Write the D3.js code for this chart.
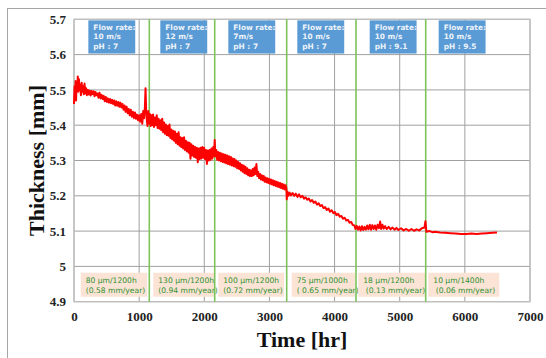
<!DOCTYPE html>
<html>
<head>
<meta charset="utf-8">
<script src="https://cdn.jsdelivr.net/npm/d3@7"></script>
<style>
  body { margin: 0; background: #fff; }
  svg { display: block; }
</style>
</head>
<body>
<svg id="chart" width="546" height="358"></svg>
<script>
/////////////////////////////////////////////////////////////////////////////////////
// Data
var xTicks = [0, 1000, 2000, 3000, 4000, 5000, 6000, 7000];
var yTicks = [4.9, 5, 5.1, 5.2, 5.3, 5.4, 5.5, 5.6, 5.7];
var yTickLabels = ["4.9", "5", "5.1", "5.2", "5.3", "5.4", "5.5", "5.6", "5.7"];

// period boundaries (hr)
var changeTimes = [1156, 2160, 3265, 4329, 5399];

// test conditions, top boxes
var conditionStart = [220, 1325, 2369, 3428, 4539, 5598];
var conditionLines = [
  ["Flow rate:", "10 m/s", "pH : 7"],
  ["Flow rate:", "12 m/s", "pH : 7"],
  ["Flow rate:", "7m/s", "pH : 7"],
  ["Flow rate:", "10 m/s", "pH : 7"],
  ["Flow rate:", "10 m/s", "pH : 9.1"],
  ["Flow rate:", "10 m/s", "pH : 9.5"]
];

// wear rate, bottom boxes
var rateStart = [103, 1217, 2215, 3342, 4364, 5439];
var rateEnd = [1125, 2164, 3224, 4314, 5388, 6529];
var rateLines = [
  ["80 \u03bcm/1200h", "(0.58 mm/year)"],
  ["130 \u03bcm/1200h", "(0.94 mm/year)"],
  ["100 \u03bcm/1200h", "(0.72 mm/year)"],
  ["75 \u03bcm/1000h", "( 0.65 mm/year)"],
  ["18 \u03bcm/1200h", " (0.13 mm/year)"],
  ["10 \u03bcm/1400h", " (0.06 mm/year)"]
];

// thickness readings [time hr, thickness mm]
var readings = [
  [0,5.46],[8,5.51],[16,5.48],[24,5.525],[32,5.47],[40,5.52],[50,5.50],[58,5.538],[66,5.495],
  [76,5.53],[86,5.50],[96,5.515],[106,5.485],[118,5.52],[128,5.495],[140,5.51],[150,5.488],
  [162,5.518],[174,5.49],[186,5.505],[198,5.485],[212,5.50],[226,5.487],[240,5.498],[256,5.484],
  [270,5.497],[286,5.488],[300,5.496],[316,5.482],[330,5.494],[346,5.485],[360,5.49],[376,5.478],
  [392,5.492],[408,5.476],[424,5.486],[440,5.474],[456,5.483],[472,5.468],[488,5.48],[504,5.466],
  [520,5.476],[536,5.464],[552,5.474],[568,5.462],[584,5.472],[600,5.46],[616,5.47],[632,5.456],
  [648,5.468],[664,5.455],[680,5.466],[696,5.452],[712,5.464],[728,5.45],[744,5.46],[760,5.444],
  [776,5.456],[792,5.438],[808,5.452],[824,5.434],[840,5.446],[856,5.428],[872,5.444],[888,5.424],
  [904,5.438],[920,5.42],[936,5.436],[952,5.418],[968,5.43],[984,5.414],[1000,5.428],[1016,5.41],
  [1032,5.432],[1048,5.404],[1062,5.44],[1076,5.42],[1088,5.45],[1098,5.505],[1108,5.44],
  [1118,5.415],[1128,5.398],[1140,5.44],[1152,5.405],[1164,5.432],[1176,5.398],[1188,5.428],
  [1200,5.40],[1214,5.43],[1228,5.395],[1242,5.422],[1256,5.40],[1270,5.428],[1284,5.392],
  [1298,5.418],[1312,5.39],[1326,5.414],[1340,5.386],[1354,5.418],[1368,5.38],[1382,5.408],
  [1396,5.376],[1410,5.402],[1424,5.372],[1438,5.398],[1452,5.37],[1466,5.402],[1480,5.364],
  [1494,5.388],[1508,5.36],[1522,5.384],[1536,5.356],[1550,5.382],[1564,5.35],[1578,5.376],
  [1592,5.346],[1606,5.38],[1620,5.342],[1634,5.366],[1648,5.338],[1662,5.364],[1676,5.334],
  [1690,5.366],[1704,5.33],[1718,5.356],[1732,5.326],[1746,5.352],[1760,5.322],[1774,5.35],
  [1788,5.305],[1802,5.346],[1816,5.314],[1830,5.342],[1844,5.31],[1858,5.338],[1872,5.308],
  [1886,5.336],[1900,5.295],[1914,5.334],[1928,5.304],[1942,5.336],[1956,5.306],[1970,5.338],
  [1984,5.308],[1998,5.336],[2012,5.304],[2026,5.33],[2040,5.29],[2054,5.328],[2068,5.3],
  [2082,5.33],[2096,5.302],[2110,5.334],[2124,5.306],[2138,5.338],[2150,5.312],[2160,5.358],
  [2170,5.312],[2184,5.33],[2198,5.302],[2212,5.324],[2226,5.3],[2240,5.322],[2254,5.298],
  [2268,5.32],[2282,5.296],[2296,5.318],[2310,5.294],[2324,5.316],[2338,5.292],[2352,5.314],
  [2366,5.29],[2380,5.312],[2394,5.288],[2408,5.31],[2422,5.286],[2436,5.306],[2450,5.284],
  [2464,5.304],[2478,5.282],[2492,5.3],[2506,5.278],[2520,5.296],[2534,5.276],[2548,5.292],
  [2562,5.272],[2576,5.288],[2590,5.268],[2604,5.286],[2618,5.264],[2632,5.282],[2646,5.262],
  [2660,5.278],[2674,5.258],[2688,5.274],[2702,5.256],[2716,5.272],[2730,5.256],[2744,5.276],
  [2758,5.258],[2772,5.28],[2786,5.262],[2800,5.29],[2814,5.256],[2828,5.268],[2842,5.25],
  [2856,5.262],[2870,5.246],[2884,5.258],[2898,5.244],[2912,5.256],[2926,5.24],[2940,5.252],
  [2954,5.238],[2968,5.25],[2982,5.236],[2996,5.248],[3010,5.234],[3024,5.246],[3038,5.232],
  [3052,5.244],[3066,5.23],[3080,5.242],[3094,5.228],[3108,5.24],[3122,5.226],[3136,5.238],
  [3150,5.224],[3164,5.236],[3178,5.222],[3192,5.234],[3206,5.22],[3220,5.232],[3234,5.218],
  [3248,5.23],[3260,5.222],[3266,5.19],[3276,5.212],[3290,5.2],[3310,5.209],[3330,5.201],
  [3355,5.208],[3380,5.2],[3405,5.206],[3430,5.197],[3455,5.204],[3480,5.196],[3505,5.2],
  [3530,5.192],[3555,5.196],[3580,5.189],[3605,5.192],[3630,5.184],[3655,5.188],[3680,5.18],
  [3705,5.184],[3730,5.175],[3755,5.179],[3780,5.171],[3805,5.174],[3830,5.165],[3855,5.168],
  [3880,5.16],[3905,5.164],[3930,5.155],[3955,5.159],[3980,5.151],[4005,5.154],[4030,5.145],
  [4055,5.149],[4080,5.141],[4105,5.143],[4130,5.135],[4155,5.138],[4180,5.13],[4205,5.132],
  [4230,5.124],[4255,5.126],[4280,5.117],[4305,5.116],[4320,5.106],[4340,5.115],[4360,5.104],
  [4380,5.113],[4400,5.102],[4420,5.114],[4440,5.103],[4460,5.112],[4480,5.104],[4500,5.116],
  [4520,5.105],[4540,5.118],[4560,5.104],[4580,5.117],[4600,5.106],[4620,5.116],[4640,5.104],
  [4660,5.118],[4680,5.108],[4700,5.127],[4715,5.106],[4735,5.118],[4755,5.107],[4775,5.114],
  [4800,5.106],[4830,5.112],[4860,5.105],[4890,5.11],[4920,5.104],[4950,5.109],[4980,5.103],
  [5020,5.108],[5060,5.102],[5100,5.106],[5140,5.101],[5180,5.106],[5220,5.101],[5260,5.105],
  [5300,5.102],[5340,5.108],[5380,5.11],[5395,5.128],[5410,5.098],[5460,5.1],[5500,5.097],
  [5540,5.098],[5620,5.096],[5700,5.095],[5780,5.094],[5860,5.093],[5940,5.092],[6020,5.092],
  [6100,5.093],[6180,5.092],[6260,5.093],[6340,5.094],[6420,5.095],[6494,5.096]
];

/////////////////////////////////////////////////////////////////////////////////////
// Margins
var svg = d3.select("#chart");
var margin = {left: 74, right: 16, top: 19.3, bottom: 56.3};
var w = 546, h = 358;

var xScale = d3.scaleLinear().domain([0, 7000]).range([margin.left, w - margin.right]);
var yScale = d3.scaleLinear().domain([4.9, 5.7]).range([h - margin.bottom, margin.top]);

// outer frame
svg.append("rect")
   .attr("x", 7.5).attr("y", 8.5)
   .attr("width", 600).attr("height", 400)
   .style("fill", "none").style("stroke", "#a6a6a6");

/////////////////////////////////////////////////////////////////////////////////////
// Grid
svg.append("g")
   .selectAll("line")
   .data(xTicks)
   .enter().append("line")
   .attr("x1", function(d) { return xScale(d); })
   .attr("x2", function(d) { return xScale(d); })
   .attr("y1", yScale(4.9)).attr("y2", yScale(5.7))
   .style("stroke", "#a0a0a0").style("stroke-width", 1);

svg.append("g")
   .selectAll("line")
   .data(yTicks)
   .enter().append("line")
   .attr("x1", xScale(0)).attr("x2", xScale(7000))
   .attr("y1", function(d) { return yScale(d); })
   .attr("y2", function(d) { return yScale(d); })
   .style("stroke", "#a0a0a0").style("stroke-width", 1);

svg.append("rect")
   .attr("x", xScale(0)).attr("y", yScale(5.7))
   .attr("width", xScale(7000) - xScale(0))
   .attr("height", yScale(4.9) - yScale(5.7))
   .style("fill", "none").style("stroke", "#c0c0c0").style("stroke-width", 1.2);

/////////////////////////////////////////////////////////////////////////////////////
// Axes
var yAxis = d3.axisLeft(yScale).tickValues(yTicks).tickSize(0).tickPadding(8)
              .tickFormat(function(d, i) { return yTickLabels[i]; });
var gy = svg.append("g").attr("transform", "translate(" + xScale(0) + ",0)").call(yAxis);
var xAxis = d3.axisBottom(xScale).tickValues(xTicks).tickSize(0).tickPadding(10)
              .tickFormat(d3.format("d"));
var gx = svg.append("g").attr("transform", "translate(0," + yScale(4.9) + ")").call(xAxis);

[gx, gy].forEach(function(g) {
  g.select(".domain").remove();
  g.selectAll("text")
   .style("font-family", "'Liberation Serif', 'Times New Roman', serif")
   .style("font-weight", "bold")
   .style("font-size", "13px")
   .style("fill", "#222");
});

svg.append("text")
   .attr("transform", "translate(44," + ((yScale(4.9) + yScale(5.7)) / 2) + ") rotate(-90)")
   .attr("text-anchor", "middle")
   .style("font-family", "'Liberation Serif', 'Times New Roman', serif")
   .style("font-weight", "bold").style("font-size", "22px").style("fill", "#111")
   .text("Thickness [mm]");

svg.append("text")
   .attr("x", 302).attr("y", 347)
   .attr("text-anchor", "middle")
   .style("font-family", "'Liberation Serif', 'Times New Roman', serif")
   .style("font-weight", "bold").style("font-size", "22px").style("fill", "#111")
   .text("Time [hr]");

/////////////////////////////////////////////////////////////////////////////////////
// Condition boxes (top)
var topBoxes = svg.selectAll(".condBox")
   .data(conditionStart)
   .enter().append("g").attr("class", "condBox");
topBoxes.append("rect")
   .attr("x", function(d) { return xScale(d); })
   .attr("y", yScale(5.697))
   .attr("width", xScale(720) - xScale(0))
   .attr("height", yScale(5.603) - yScale(5.697))
   .style("fill", "#5b9bd5");
topBoxes.each(function(d, i) {
  var g = d3.select(this);
  conditionLines[i].forEach(function(t, j) {
    g.append("text")
     .attr("x", xScale(d) + 5)
     .attr("y", 30 + j * 9.3)
     .style("font-family", "'DejaVu Sans', sans-serif")
     .style("font-size", "7.4px").style("font-weight", "bold")
     .style("fill", "#eef4fb")
     .text(t);
  });
});

// Rate boxes (bottom)
var botBoxes = svg.selectAll(".rateBox")
   .data(rateStart)
   .enter().append("g").attr("class", "rateBox");
botBoxes.append("rect")
   .attr("x", function(d) { return xScale(d); })
   .attr("y", yScale(4.982))
   .attr("width", function(d, i) { return xScale(rateEnd[i]) - xScale(d); })
   .attr("height", yScale(4.914) - yScale(4.982))
   .style("fill", "#fbe4d5");
botBoxes.each(function(d, i) {
  var g = d3.select(this);
  rateLines[i].forEach(function(t, j) {
    g.append("text")
     .attr("x", xScale(d) + 5)
     .attr("y", 283 + j * 10)
     .attr("xml:space", "preserve")
     .style("white-space", "pre")
     .style("font-family", "'DejaVu Sans', sans-serif")
     .style("font-size", "7.6px")
     .style("fill", "#2f8f2f")
     .text(t);
  });
});

/////////////////////////////////////////////////////////////////////////////////////
// Green period lines
svg.append("g")
   .selectAll("line")
   .data(changeTimes)
   .enter().append("line")
   .attr("x1", function(d) { return xScale(d); })
   .attr("x2", function(d) { return xScale(d); })
   .attr("y1", yScale(5.7)).attr("y2", yScale(4.9))
   .style("stroke", "#7cc35a").style("stroke-width", 1.6);

/////////////////////////////////////////////////////////////////////////////////////
// Thickness line
var line = d3.line()
   .x(function(d) { return xScale(d[0]); })
   .y(function(d) { return yScale(d[1]); });

svg.append("path")
   .datum(readings)
   .attr("d", line)
   .style("fill", "none")
   .style("stroke", "#ff0000")
   .style("stroke-width", 2)
   .style("stroke-linejoin", "round");
</script>
</body>
</html>
